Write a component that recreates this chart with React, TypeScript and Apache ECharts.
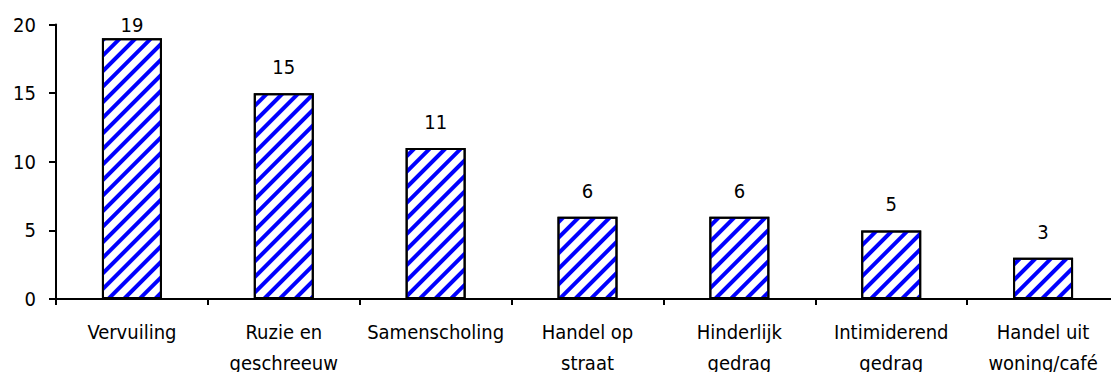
import React, { useEffect, useRef } from "react";
import * as echarts from "echarts";

const categories = [
  "Vervuiling",
  "Ruzie en\ngeschreeuw",
  "Samenscholing",
  "Handel op\nstraat",
  "Hinderlijk\ngedrag",
  "Intimiderend\ngedrag",
  "Handel uit\nwoning/café",
];
const values = [19, 15, 11, 6, 6, 5, 3];
const yTicks = [0, 5, 10, 15, 20];

export default function App() {
  const ref = useRef<HTMLDivElement>(null);
  useEffect(() => {
    const chart = echarts.init(ref.current!, null, { renderer: "svg" });
    const font = "'DejaVu Sans Condensed', 'DejaVu Sans'";
    chart.setOption({
      animation: false,
      backgroundColor: "#ffffff",
      grid: {
        left: 56,
        right: -8,
        top: 24.5,
        bottom: 73,
        containLabel: false,
        outerBoundsMode: "none",
      },
      xAxis: {
        type: "category",
        data: categories,
        axisLine: { lineStyle: { color: "#000", width: 2 } },
        axisTick: { show: true, length: 6, lineStyle: { color: "#000", width: 2 } },
        axisLabel: {
          color: "#000",
          fontFamily: font,
          fontSize: 20,
          lineHeight: 31,
          margin: 17,
          interval: 0,
        },
      },
      yAxis: {
        type: "value",
        min: yTicks[0],
        max: yTicks[yTicks.length - 1],
        interval: 5,
        splitLine: { show: false },
        axisLine: { show: true, lineStyle: { color: "#000", width: 2 } },
        axisTick: { show: true, length: 7, lineStyle: { color: "#000", width: 2 } },
        axisLabel: { color: "#000", fontFamily: font, fontSize: 20, margin: 20 },
      },
      series: [
        {
          type: "bar",
          data: values.map((v, i) =>
            i === 0 ? { value: v, label: { distance: 3 } } : v
          ),
          barWidth: 60,
          itemStyle: {
            color: "#ffffff",
            borderColor: "#000",
            borderWidth: 2,
            decal: {
              symbol: "rect",
              color: "#0000ff",
              dashArrayX: [1, 0],
              dashArrayY: [4, 7],
              rotation: -Math.PI / 4,
            },
          },
          label: {
            show: true,
            position: "top",
            distance: 16,
            color: "#000",
            fontFamily: font,
            fontSize: 20,
          },
        },
      ],
    });
    return () => chart.dispose();
  }, []);
  return (
    <div
      ref={ref}
      style={{ position: "absolute", left: 0, top: 0, width: 1111, height: 372 }}
    />
  );
}
